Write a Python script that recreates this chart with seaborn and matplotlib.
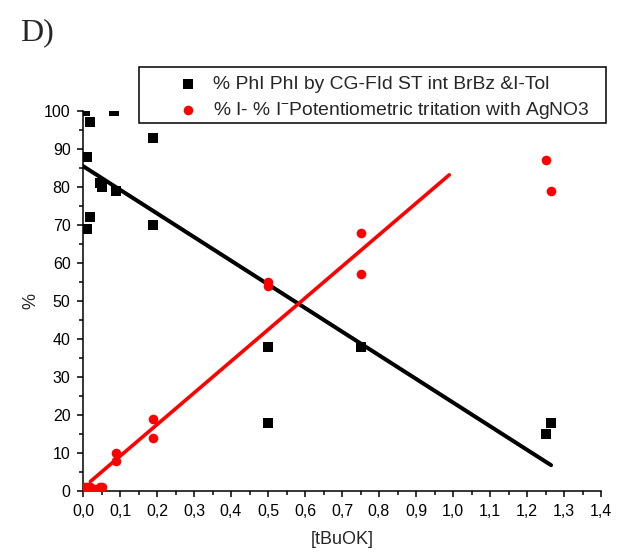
import matplotlib
matplotlib.use("Agg")
import matplotlib.pyplot as plt
from matplotlib.ticker import MultipleLocator, FuncFormatter
from matplotlib.patches import Rectangle
import seaborn as sns
import pandas as pd

# --- data ---
black_x = [0.01, 0.02, 0.01, 0.02, 0.045, 0.05, 0.09, 0.085, 0.005, 0.19, 0.19, 0.5, 0.5, 0.75, 1.25, 1.265]
black_y = [88, 97, 69, 72, 81, 80, 79, 100, 100, 93, 70, 38, 18, 38, 15, 18]
red_x = [0.005, 0.01, 0.02, 0.03, 0.045, 0.05, 0.09, 0.088, 0.19, 0.19, 0.5, 0.5, 0.75, 0.75, 1.25, 1.265]
red_y = [1, 1, 1, 0.5, 1, 1, 10, 8, 19, 14, 55, 54, 68, 57, 87, 79]
fit_black_x = [0.0, 1.265]
fit_black_y = [85.5, 6.8]
fit_red_x = [0.02, 0.99]
fit_red_y = [2.5, 83.2]
black_label = "% PhI PhI by CG-FId ST int BrBz &I-Tol"
red_label = "% I- % I$^{-}$Potentiometric tritation with AgNO3"

sns.set_style("white")
plt.rcParams["font.family"] = ["Liberation Sans", "DejaVu Sans"]
plt.rcParams["mathtext.default"] = "regular"

W, H = 621, 560
fig = plt.figure(figsize=(W / 100, H / 100), dpi=100)
ax = fig.add_axes([83 / W, 69 / H, 518 / W, 380 / H])

dfb = pd.DataFrame({"x": black_x, "y": black_y})
dfr = pd.DataFrame({"x": red_x, "y": red_y})
sns.scatterplot(data=dfb, x="x", y="y", marker="s", color="black", s=42,
                linewidth=0, ax=ax, label=black_label, zorder=3)
sns.scatterplot(data=dfr, x="x", y="y", marker="o", color="#ff0000", s=48,
                linewidth=0, ax=ax, label=red_label, zorder=3)
sns.lineplot(x=fit_black_x, y=fit_black_y, color="black", linewidth=2.9, ax=ax,
             legend=False, zorder=2)
sns.lineplot(x=fit_red_x, y=fit_red_y, color="#ff0000", linewidth=2.6, ax=ax,
             legend=False, zorder=2)

ax.set_xlim(0, 1.4)
ax.set_ylim(0, 100)
for s in ["top", "right"]:
    ax.spines[s].set_visible(False)
for s in ["left", "bottom"]:
    ax.spines[s].set_linewidth(1.1)
    ax.spines[s].set_color("black")

ax.xaxis.set_major_locator(MultipleLocator(0.1))
ax.xaxis.set_minor_locator(MultipleLocator(0.05))
ax.yaxis.set_major_locator(MultipleLocator(10))
ax.yaxis.set_minor_locator(MultipleLocator(5))
ax.xaxis.set_major_formatter(FuncFormatter(lambda v, p: f"{v:.1f}".replace(".", ",")))
ax.yaxis.set_major_formatter(FuncFormatter(lambda v, p: f"{v:.0f}"))
ax.tick_params(which="major", direction="out", length=4.5, width=1.1, labelsize=11.5,
               colors="black", pad=4.5)
ax.tick_params(which="minor", direction="out", length=2.8, width=1.1, colors="black")
ax.tick_params(axis="x", which="both", bottom=True)
ax.tick_params(axis="y", which="both", left=True)

ax.set_xlabel("[tBuOK]", fontsize=13, labelpad=9)
ax.set_ylabel("%", fontsize=13, labelpad=3)

leg = ax.legend(loc="upper left", bbox_to_anchor=(162 / W, 1 - 69 / H),
                bbox_transform=fig.transFigure, borderaxespad=0, fontsize=13.9,
                frameon=False, handletextpad=0.29, borderpad=0.35,
                labelspacing=0.33, handlelength=2.0, markerscale=1.0)

# legend frame (box drawn separately so the handles sit where the reference has them)
fig.add_artist(Rectangle((139 / W, 1 - 123 / H), (606 - 139) / W, (123 - 67) / H,
                         transform=fig.transFigure, fill=False, ec="black", lw=1.1))

fig.text(20 / W, 1 - 40 / H, "D)", fontsize=23, family="Liberation Serif")

fig.savefig("out.png", dpi=100)
